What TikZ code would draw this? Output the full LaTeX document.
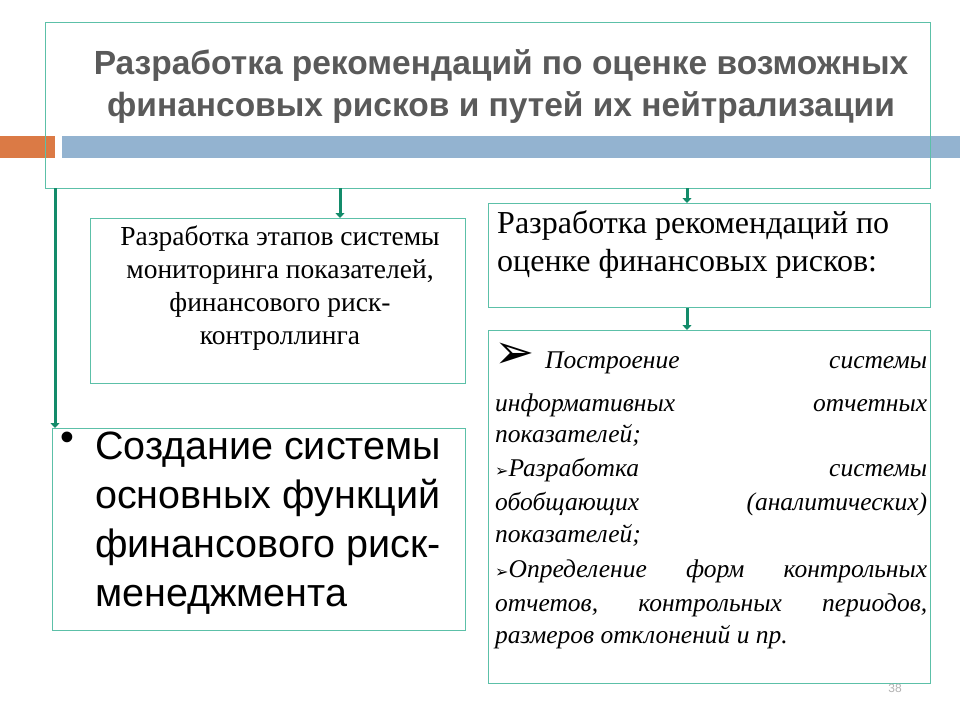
\documentclass[tikz,border=0pt]{standalone}
\usepackage{fontspec}
\setmainfont{Liberation Serif}
\newfontfamily\arialf{Liberation Sans}
\newfontfamily\symf{DejaVu Sans}
\usetikzlibrary{arrows.meta}
\definecolor{gbord}{HTML}{5CC0A8}
\definecolor{garr}{HTML}{138B6A}
\definecolor{orng}{HTML}{DB7A45}
\definecolor{blu}{HTML}{93B3D0}
\definecolor{ttl}{HTML}{5A5A5A}
\tikzset{frame/.style={draw=gbord,line width=0.9pt},
 conn/.style={draw=garr,line width=3pt,-{Triangle[length=5pt,width=9pt]}},
 txt/.style={anchor=north west,inner sep=0pt,align=left},
 itl/.style={anchor=base west,inner sep=0pt,font=\itshape\fontsize{25.5}{30}\selectfont}}
\begin{document}
\begin{tikzpicture}[x=1pt,y=-1pt]
\useasboundingbox (0,0) rectangle (960,720);
\fill[white] (0,0) rectangle (960,720);
\fill[orng] (0,136) rectangle (55,158);
\fill[blu] (62,136) rectangle (960,158);
\draw[frame] (45,22) rectangle (930,188);
\coordinate (tb1) at (340,188);
\coordinate (tb2) at (687,188);
\coordinate (tbl) at (55,188);
\node[ttl,font=\arialf\bfseries\fontsize{33.5}{42}\selectfont,align=center] (title) at (501,87) {Разработка рекомендаций по оценке возможных\\ финансовых рисков и путей их нейтрализации};
\node[frame,minimum width=375,minimum height=165,anchor=north west] (b1) at (90,218) {};
\node[txt,align=center,font=\fontsize{27.5}{33}\selectfont] (t1) at (280,226) [anchor=north] {Разработка этапов системы\\ мониторинга показателей,\\ финансового риск-\\ контроллинга};
\node[frame,minimum width=413,minimum height=202,anchor=north west] (b2) at (52,428) {};
\node[txt,font=\arialf\fontsize{39.5}{49}\selectfont] (bul) at (60,432) {•};
\node[txt,font=\arialf\fontsize{39.5}{49}\selectfont] (t2) at (95,432) {Создание системы\\ основных функций\\ финансового риск-\\ менеджмента};
\node[frame,minimum width=442,minimum height=104,anchor=north west] (b3) at (488,203) {};
\node[txt,font=\fontsize{32}{38}\selectfont] (t3) at (497,210) {Разработка рекомендаций по\\ оценке финансовых рисков:};
\node[frame,minimum width=442,minimum height=353,anchor=north west] (b4) at (488,330) {};
\node[anchor=base west,inner sep=0pt,font=\symf\fontsize{48}{48}\selectfont] (arr) at (494,368) {➢};
\node[itl] (l1) at (545,368) {\makebox[382pt][s]{Построение\hfill системы}};
\node[itl] (l2) at (495,411) {\makebox[432pt][s]{информативных\hfill отчетных}};
\node[itl] (l3) at (495,442) {показателей;};
\node[itl] (l4) at (495,476) {\makebox[432pt][s]{{\symf\fontsize{16}{16}\selectfont ➢}Разработка\hfill системы}};
\node[itl] (l5) at (495,510) {\makebox[432pt][s]{обобщающих\hfill (аналитических)}};
\node[itl] (l6) at (495,542) {показателей;};
\node[itl] (l7) at (495,577) {\makebox[432pt][s]{{\symf\fontsize{16}{16}\selectfont ➢}Определение\hfill форм\hfill контрольных}};
\node[itl] (l8) at (495,611) {\makebox[432pt][s]{отчетов,\hfill контрольных\hfill периодов,}};
\node[itl] (l9) at (495,643) {размеров отклонений и пр.};
\node[gray!60,font=\arialf\fontsize{12}{12}\selectfont] (pg) at (895,688) {38};
\draw[conn] (tbl) -- (tbl|-b2.north);
\draw[conn] (tb1) -- (tb1|-b1.north);
\draw[conn] (tb2) -- (tb2|-b3.north);
\draw[conn] (b3.south-|tb2) -- (b4.north-|tb2);
\end{tikzpicture}
\end{document}
